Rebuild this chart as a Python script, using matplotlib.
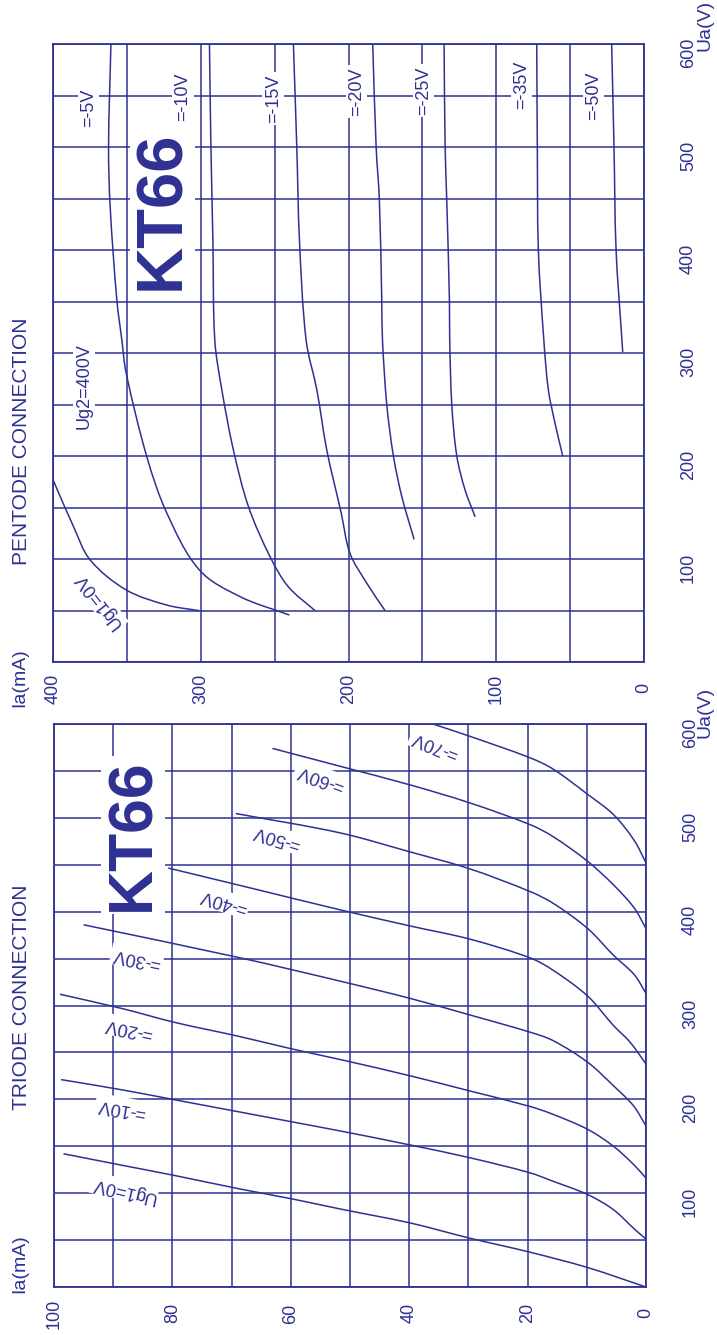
import matplotlib
matplotlib.use("Agg")
import matplotlib.pyplot as plt
from matplotlib.path import Path
from matplotlib.patches import PathPatch
import numpy as np

plt.rcParams["font.family"] = ["Liberation Sans", "DejaVu Sans"]

NAVY = "#2e3192"
W, H = 717, 1335

# ---- triode connection: anode current Ia (mA) vs anode voltage Ua (V)
triode_labels = ["Ug1=0V", "=-10V", "=-20V", "=-30V", "=-40V", "=-50V", "=-60V", "=-70V"]
triode_ua = [
    [0, 20.7, 37.1, 52.1, 68.2, 83.2, 93.9, 104.6, 118.8, 129.6, 142],
    [51, 62, 82.4, 98.5, 112.7, 121.7, 137.8, 151.3, 165.5, 176, 186.6, 199.5, 210, 221],
    [116, 130.6, 150, 168, 184, 192.4, 209, 225, 241.5, 253.7, 267, 282, 296.6, 312],
    [171.6, 193, 214.5, 239.5, 262.6, 271.6, 290, 307.5, 326, 351, 386],
    [237.7, 261, 278.7, 310, 337.6, 350.8, 370.8, 384.7, 402, 424, 446.5],
    [313, 333, 353.6, 382, 409, 421.5, 445.7, 463.6, 484, 504.6],
    [382, 404, 428.6, 453.6, 480, 492.8, 516, 535, 555, 574],
    [452, 476, 503.5, 525, 552, 564, 587, 600],
]
triode_ia = [
    [0, 9.85, 19.6, 29.8, 39.8, 51.7, 59.8, 68.7, 79.6, 88.4, 98.4],
    [0, 2.0, 5.5, 9.85, 15.7, 19.6, 29.8, 39.8, 51, 59.8, 68.7, 79.6, 88.4, 98.8],
    [0, 2.1, 5.5, 9.85, 15.7, 19.6, 29.8, 39.8, 51, 59.8, 68.7, 79.6, 88.4, 99],
    [0, 2.1, 5.5, 9.85, 15.7, 19.6, 29.8, 39.8, 51.7, 68.7, 95],
    [0, 2.7, 5.5, 9.85, 15.7, 19.6, 29.8, 39.8, 51.7, 66, 80.7],
    [0, 2.0, 5.5, 9.85, 15.7, 19.6, 29.8, 39.8, 51.7, 69.3],
    [0, 2.0, 5.5, 9.85, 15.7, 19.6, 29.8, 39.8, 51.7, 63.1],
    [0, 2.0, 5.5, 9.85, 15.7, 19.6, 29.8, 36],
]

# ---- pentode connection, Ug2 = 400 V
pentode_labels = ["Ug1=0V", "=-5V", "=-10V", "=-15V", "=-20V", "=-25V", "=-35V", "=-50V"]
pentode_ua = [
    [49.8, 55.3, 70, 99, 131.4, 177],
    [45.6, 63.4, 89.3, 144.4, 199.3, 280.6, 312.6, 351.5, 442, 500, 600],
    [49.8, 73, 102, 150.8, 205.8, 264, 312.6, 410, 507, 600],
    [49.8, 76.4, 105.5, 145, 205.8, 264, 312.6, 409.7, 500, 600],
    [119, 160.5, 200, 250, 312.6, 351.5, 448.5, 500, 600],
    [141, 167, 200, 250, 312.6, 351.5, 448.5, 500, 600],
    [200, 231.7, 264, 312.6, 400, 500, 600],
    [301, 316, 400, 500, 600],
]
pentode_ia = [
    [300.9, 323, 350.5, 374.8, 386.1, 400],
    [240, 273.3, 300.9, 322.9, 336.5, 350.5, 353.4, 356.8, 361.3, 362.4, 360.8],
    [222.6, 240.7, 253, 267.7, 277.9, 285.7, 290.5, 291.8, 293.2, 294.1],
    [175.2, 187.6, 199, 205, 214.7, 221.4, 228.7, 233.2, 235, 237.3],
    [155.6, 163.9, 169.6, 174.1, 177, 177.5, 179.1, 181.3, 183.6],
    [114.3, 121.1, 126.7, 130.1, 131.5, 131.7, 133.5, 134.6, 135.3],
    [55, 60.2, 64.7, 67.8, 71.5, 72.2, 72.6],
    [14.4, 15.1, 18.9, 20.3, 21.9],
]

# label placement (Ia, Ua, rotation) in data units
triode_label_pos = [(88.3, 104, 167), (88.6, 191, 170), (87.5, 276, 168), (86, 350, 168),
                    (71.4, 411, 163), (62.4, 479, 163), (55, 543, 160), (35.6, 578, 158)]
pentode_label_pos = [(369, 60, 128), (376, 538, 90), (312, 549, 90), (251, 547, 90),
                     (194.4, 554, 90), (149.3, 555, 90), (82.7, 560, 90), (34.3, 550, 90)]


def px(x, y):
    return x / W, 1 - y / H


def smooth_curve(ax, ia, ua, sx, sy):
    # draw a curve through the read points using cubic bezier segments
    p = np.column_stack([np.asarray(ia) * sx, np.asarray(ua) * sy])
    n = len(p)
    tang = np.zeros_like(p)
    for i in range(n):
        a = p[max(i - 1, 0)]
        b = p[min(i + 1, n - 1)]
        d = b - a
        tang[i] = d / np.hypot(*d)
    verts = [p[0]]
    codes = [Path.MOVETO]
    for i in range(n - 1):
        L = np.hypot(*(p[i + 1] - p[i])) / 3
        verts += [p[i] + tang[i] * L, p[i + 1] - tang[i + 1] * L, p[i + 1]]
        codes += [Path.CURVE4] * 3
    verts = np.array(verts) / [sx, sy]
    ax.add_patch(PathPatch(Path(verts, codes), facecolor="none", edgecolor=NAVY,
                           lw=1.1, zorder=2))


def setup(ax, ia_max, ia_grid, ia_lab_step):
    ax.set_xlim(ia_max, 0)
    ax.set_ylim(0, 600)
    xt = np.arange(0, ia_max + 1, ia_grid)
    ax.set_xticks(xt)
    ax.set_xticklabels([str(int(v)) if v % ia_lab_step == 0 else "" for v in xt])
    yt = np.arange(0, 601, 50)
    ax.set_yticks(yt)
    ax.set_yticklabels([str(int(v)) if (v % 100 == 0 and v > 0) else "" for v in yt])
    ax.yaxis.tick_right()
    ax.tick_params(axis="x", length=0, pad=19, labelsize=13, labelcolor=NAVY, labelrotation=90)
    ax.tick_params(axis="y", length=0, pad=32, labelsize=13, labelcolor=NAVY, labelrotation=90)
    for lbl in ax.get_xticklabels():
        lbl.set_va("center")
    for lbl in ax.get_yticklabels():
        lbl.set_ha("center")
    ax.grid(True, color=NAVY, lw=1.1)
    ax.set_axisbelow(True)
    for s in ax.spines.values():
        s.set_color(NAVY)
        s.set_linewidth(1.3)


fig = plt.figure(figsize=(W / 100, H / 100), dpi=100)

# pentode (upper)
ax_p = fig.add_axes([53 / W, 1 - 662 / H, 591 / W, 618 / H])
setup(ax_p, 400, 50, 100)
for ua, ia in zip(pentode_ua, pentode_ia):
    smooth_curve(ax_p, ia, ua, 1.478, 1.03)
for lab, (x, y, r) in zip(pentode_labels, pentode_label_pos):
    ax_p.text(x, y, lab, rotation=r, ha="center", va="center", fontsize=13, color=NAVY,
              rotation_mode="anchor", zorder=4,
              bbox=dict(facecolor="white", edgecolor="none", pad=1.5))
ax_p.text(379, 268, "Ug2=400V", rotation=90, ha="center", va="center", fontsize=13,
          color=NAVY, zorder=4, bbox=dict(facecolor="white", edgecolor="none", pad=1.5))
ax_p.text(326, 439, "KT66", rotation=90, ha="center", va="center", fontsize=47,
          fontweight="bold", color=NAVY, zorder=4,
          bbox=dict(facecolor="white", edgecolor="none", pad=2))

# triode (lower)
ax_t = fig.add_axes([54 / W, 1 - 1287 / H, 592 / W, 563 / H])
setup(ax_t, 100, 10, 20)
for ua, ia in zip(triode_ua, triode_ia):
    smooth_curve(ax_t, ia, ua, 5.92, 0.934)
for lab, (x, y, r) in zip(triode_labels, triode_label_pos):
    ax_t.text(x, y, lab, rotation=r, ha="center", va="center", fontsize=13, color=NAVY,
              rotation_mode="anchor", zorder=4,
              bbox=dict(facecolor="white", edgecolor="none", pad=1.5))
ax_t.text(86.6, 482, "KT66", rotation=90, ha="center", va="center", fontsize=45,
          fontweight="bold", color=NAVY, zorder=4,
          bbox=dict(facecolor="white", edgecolor="none", pad=2))

# titles and axis names
fig.text(*px(22, 441), "PENTODE CONNECTION", rotation=90, ha="center", va="center",
         fontsize=15, color=NAVY)
fig.text(*px(22, 997), "TRIODE CONNECTION", rotation=90, ha="center", va="center",
         fontsize=15, color=NAVY)
fig.text(*px(20, 678), "Ia(mA)", rotation=90, ha="center", va="center", fontsize=14, color=NAVY)
fig.text(*px(20, 1264), "Ia(mA)", rotation=90, ha="center", va="center", fontsize=14, color=NAVY)
fig.text(*px(705, 25), "Ua(V)", rotation=90, ha="center", va="center", fontsize=14, color=NAVY)
fig.text(*px(705, 712), "Ua(V)", rotation=90, ha="center", va="center", fontsize=14, color=NAVY)

fig.savefig("out.png", dpi=100, facecolor="white")
